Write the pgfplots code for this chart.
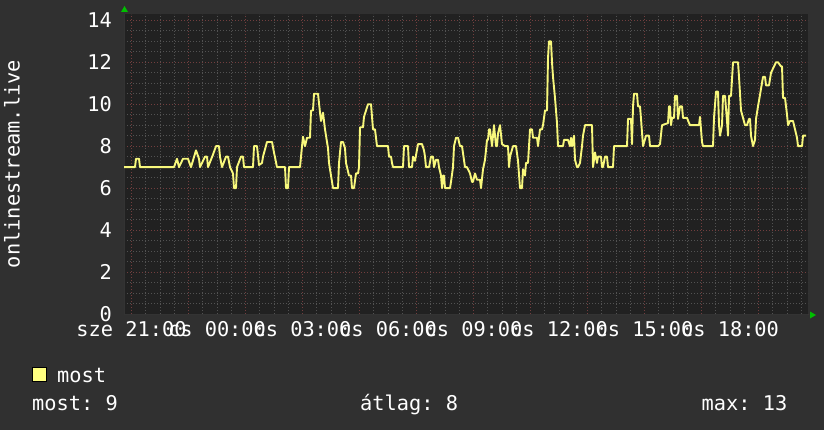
\documentclass[border=0pt]{standalone}
\usepackage{fontspec}
\setmainfont{DejaVu Sans Mono}
\usepackage{pgfplots}
\pgfplotsset{compat=1.18}
\definecolor{canvas}{HTML}{303030}
\definecolor{plotbg}{HTML}{212121}
\definecolor{minorgrid}{HTML}{525252}
\definecolor{majorgrid}{HTML}{723E3E}
\definecolor{trace}{HTML}{F8F87C}
\definecolor{legfill}{HTML}{FFFF80}
\newcommand{\rrdfont}{\fontsize{20.4}{24}\selectfont}
\frenchspacing
\pgfplotstableread{
px v
124 7
135 7
136 7.4
139 7.4
140 7
174 7
177 7.4
179 7
183 7.4
188 7.4
191 7
196 7.8
199 7.4
200 7
205 7.5
207 7.5
208 7
213 7.6
216 8
219 8
220 7.5
222 7
226 7.5
228 7.5
230 7
233 6.7
234 6
236 6
237 7
241 7.5
243 7.5
244 7
253 7
254 8
257 8
259 7.1
262 7.2
263 7.5
267 8.2
272 8.2
274 7.7
277 7
285 7
286 6
288 6
289 7
300 7
302 8
303 8.45
305 8
307 8.4
310 8.4
311 9.7
313 9.7
314 10.5
318 10.5
320 9.6
321 9.2
323 9.6
325 8.8
328 7.9
329 7.2
333 6
338 6
339 7.2
341 8.2
343 8.2
345 7.9
346 7.2
349 6.6
351 6.6
352 6
354 6
356 6.7
358 6.7
359 7
360 8.9
363 8.9
364 9.4
368 10
371 10
372 9.4
373 8.8
375 8.8
377 8
388 8
389 7.5
391 7.5
392 7.2
393 7
403 7
404 8
408 8
409 7
412 7
413 7.5
415 7.3
418 8.1
422 8.1
424 7.8
425 7.5
426 7
429 7
431 7.5
433 7.5
434 7
436 7.35
438 7.35
439 7
441 6.6
442 6
443 6.6
444 6.6
445 6
450 6
451 6.3
453 7
454 8
456 8.4
458 8.4
460 8
462 8
465 7
467 7
470 6.7
472 6.3
473 6.3
475 6.7
477 6.4
480 6.4
481 6
483 6.9
485 7.35
487 8.3
488 8.3
489 8.8
490 8.8
492 8
494 9
496 8
497 8
498 8.6
500 9
502 8.1
505 8
508 8
509 7
510 7.5
513 8
516 8
518 7.3
520 6
522 6
523 6.9
525 6.6
526 7.2
528 7.2
529 8
530 8.8
532 8.8
533 8.4
537 8.4
538 8
540 8.8
542 8.8
543 9
545 9.7
547 9.7
548 12.2
549 13
551 13
552 12
553 11.3
555 10.3
557 9.1
558 8
563 8
564 8.3
568 8.3
570 8
571 8.4
572 8
574 8.5
575 7.35
577 7
578 7
580 7.2
582 8
583 8.5
585 9
592 9
593 7
595 7.7
597 7.2
598 7.5
601 7.5
602 7
603 7
605 7.5
607 7.5
608 7
613 7
614 8
627 8
628 9.3
631 9.3
632 8.1
633 9.9
634 10.5
637 10.5
638 9.9
640 9.9
641 9.3
643 8
646 8.5
649 8.5
650 8
658 8
660 8.1
662 9
668 9.1
669 9.9
670 9.9
671 9
672 9.35
674 9.35
675 10.4
677 10.4
678 9.3
680 9.9
682 9.9
683 9.35
687 9.35
689 9.1
690 9
699 9
700 9.4
702 8.2
703 8
713 8
714 9.35
716 10.6
718 10.6
719 9
720 8.5
722 9
723 10.4
725 10.4
727 9.2
728 8.5
729 10.4
731 10.4
733 12
738 12
739 11.3
741 9.7
743 9.35
745 9
747 9
749 9.3
750 9.3
751 8.5
753 8
755 8.3
756 9.3
758 9.9
760 10.45
763 11.3
765 11.3
766 10.9
769 10.9
771 11.5
773 11.7
776 12
778 12
781 11.8
782 11.8
783 10.3
785 10.3
787 9.5
788 9
790 9.2
793 9.2
795 8.8
797 8.4
798 8
802 8
803 8.5
806 8.5
}\most

\begin{document}
\begin{tikzpicture}[x=1bp,y=1bp]
\fill[canvas] (0,0) rectangle (824,430);
\useasboundingbox (0,0) rectangle (824,430);
\begin{axis}[
  at={(124bp,116bp)}, anchor=south west,
  width=684bp, height=300bp, scale only axis,
  xmin=124, xmax=808, ymin=0, ymax=14.3,
  axis background/.style={fill=plotbg},
  axis x line*=bottom, axis y line*=left,
  axis line style={draw=black!80, line width=0.8bp},
  tick style={draw=none},
  xtick={131.5,188.5,...,800},
  minor xtick={131.5,145.75,...,802},
  xticklabels={},
  extra x ticks={131.5,217,302.5,388,473.5,559,644.5,730},
  extra x tick labels={sze 21:00,cs 00:00,cs 03:00,cs 06:00,cs 09:00,cs 12:00,cs 15:00,cs 18:00},
  extra x tick style={grid=none},
  ytick={0,2,...,14},
  minor ytick={0,0.5,...,14},
  grid=both,
  major grid style={draw=majorgrid, dash pattern=on 1bp off 2bp, line width=0.8bp},
  minor grid style={draw=minorgrid, dash pattern=on 1bp off 2bp, line width=0.8bp},
  tick label style={font=\rrdfont, text=white},
  x tick label style={anchor=base, inner sep=0pt, yshift=-22bp},
  y tick label style={anchor=east, inner sep=0pt, xshift=-12bp},
  /pgf/number format/assume math mode=true,
  clip=true,
]
\addplot[trace, line width=1.9bp, line join=round] table[x=px, y=v] {\most};
\end{axis}
\fill[green!75!black] (121,418) -- (128,418) -- (124.5,424) -- cycle;
\fill[green!75!black] (810,111.5) -- (810,118.5) -- (816,115) -- cycle;
\node[rotate=90, font=\rrdfont, text=white, inner sep=0pt] at (12,266) {onlinestream.live};
\filldraw[fill=legfill, draw=black, line width=0.8bp] (32,49) rectangle (46,63);
\node[anchor=base west, inner sep=0pt, font=\rrdfont, text=white] at (57,48) {most};
\node[anchor=base west, inner sep=0pt, font=\rrdfont, text=white] at (32,20) {most: 9};
\node[anchor=base west, inner sep=0pt, font=\rrdfont, text=white] at (360,20) {átlag: 8};
\node[anchor=base west, inner sep=0pt, font=\rrdfont, text=white] at (701.5,20) {max: 13};
\end{tikzpicture}
\end{document}
